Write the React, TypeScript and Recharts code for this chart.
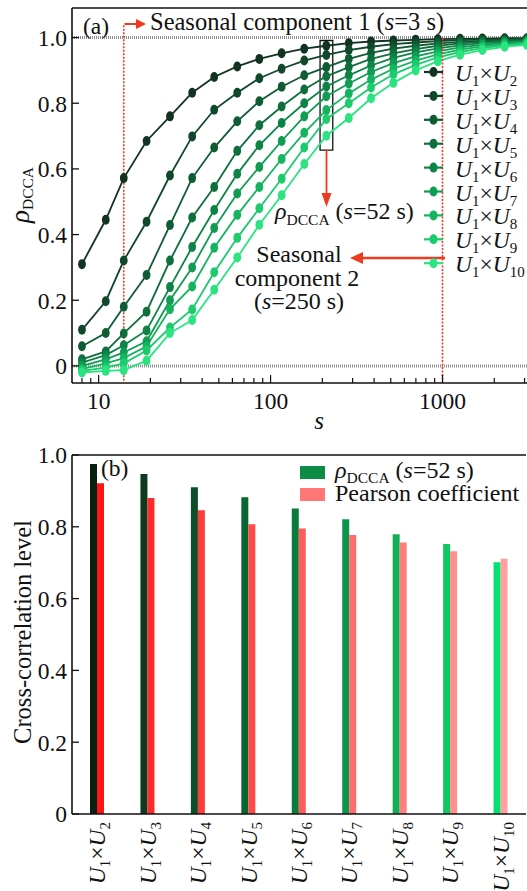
import {
  Bar,
  BarChart,
  Cell,
  Line,
  LineChart,
  ReferenceArea,
  ReferenceLine,
  XAxis,
  YAxis,
} from "recharts";

// ---- panel (a): rho_DCCA against the scale s ----
const scales = [8, 11, 14, 19, 26, 35, 47, 64, 86, 116, 157, 211, 285, 384, 518, 698, 940, 1266, 1706, 2298, 3096];

const rhoU2 = [0.31, 0.445, 0.572, 0.685, 0.76, 0.832, 0.88, 0.912, 0.935, 0.952, 0.966, 0.975, 0.983, 0.988, 0.991, 0.993, 0.995, 0.996, 0.997, 0.998, 0.998];
const rhoU3 = [0.11, 0.197, 0.321, 0.439, 0.58, 0.699, 0.78, 0.832, 0.876, 0.905, 0.93, 0.947, 0.962, 0.972, 0.98, 0.985, 0.989, 0.992, 0.994, 0.995, 0.996];
const rhoU4 = [0.06, 0.1, 0.18, 0.277, 0.429, 0.572, 0.665, 0.745, 0.806, 0.85, 0.885, 0.91, 0.935, 0.953, 0.966, 0.975, 0.982, 0.987, 0.99, 0.993, 0.995];
const rhoU5 = [0.02, 0.044, 0.099, 0.165, 0.321, 0.452, 0.545, 0.655, 0.733, 0.79, 0.842, 0.882, 0.91, 0.935, 0.952, 0.965, 0.975, 0.982, 0.987, 0.99, 0.993];
const rhoU6 = [0.01, 0.033, 0.063, 0.108, 0.24, 0.362, 0.475, 0.585, 0.672, 0.74, 0.8, 0.851, 0.885, 0.915, 0.938, 0.955, 0.967, 0.976, 0.983, 0.987, 0.99];
const rhoU7 = [0.0, 0.02, 0.041, 0.075, 0.2, 0.3, 0.42, 0.525, 0.606, 0.685, 0.76, 0.821, 0.86, 0.895, 0.922, 0.943, 0.958, 0.97, 0.978, 0.984, 0.988];
const rhoU8 = [-0.01, 0.008, 0.024, 0.06, 0.173, 0.242, 0.36, 0.46, 0.545, 0.63, 0.71, 0.779, 0.83, 0.872, 0.905, 0.93, 0.949, 0.963, 0.973, 0.98, 0.985];
const rhoU9 = [-0.015, -0.005, 0.008, 0.047, 0.117, 0.172, 0.285, 0.39, 0.48, 0.57, 0.665, 0.752, 0.8, 0.848, 0.888, 0.917, 0.94, 0.956, 0.968, 0.976, 0.982];
const rhoU10 = [-0.02, -0.015, -0.013, 0.016, 0.1, 0.14, 0.232, 0.33, 0.43, 0.52, 0.615, 0.701, 0.755, 0.815, 0.862, 0.9, 0.928, 0.948, 0.962, 0.972, 0.978];

const pairIndex = ["2", "3", "4", "5", "6", "7", "8", "9", "10"];
const rhoSeries = [rhoU2, rhoU3, rhoU4, rhoU5, rhoU6, rhoU7, rhoU8, rhoU9, rhoU10];

const sTicks = [8, 9, 10, 20, 30, 40, 50, 60, 70, 80, 90, 100, 200, 300, 400, 500, 600, 700, 800, 900, 1000, 2000, 3000];
const sMajor = [10, 100, 1000];
const levelTicks = [0, 0.2, 0.4, 0.6, 0.8, 1.0];

// ---- panel (b): cross-correlation levels ----
const dccaLevels = [0.975, 0.947, 0.91, 0.882, 0.851, 0.821, 0.779, 0.752, 0.701];
const pearsonLevels = [0.921, 0.88, 0.846, 0.807, 0.795, 0.777, 0.756, 0.732, 0.711];

const lineColors = ["#123322", "#11472a", "#0f5c34", "#0e6f3d", "#0d8446", "#109c52", "#14b45e", "#1ccb6c", "#2be47f"];
const greenBars = ["#0a1e12", "#0f3a22", "#0c4d2a", "#0a6535", "#0a7a3d", "#0f944b", "#11ad57", "#10c764", "#00e271"];
const redBars = ["#ff1414", "#ff2b2b", "#ff3b3b", "#ff4a4a", "#ff5d5d", "#ff6e6e", "#ff7f7f", "#ff9090", "#ffa0a0"];

const FONT = "'Liberation Serif', 'Times New Roman', serif";
const RED = "#ee3a1e";
const aDomain = [-0.052, 1.09];

const lineData = scales.map((s, i) => {
  const row: Record<string, number> = { s };
  rhoSeries.forEach((vals, k) => {
    row["u" + pairIndex[k]] = vals[i];
  });
  return row;
});

const barData = pairIndex.map((n, i) => ({
  pair: n,
  dcca: dccaLevels[i],
  pearson: pearsonLevels[i],
}));

const fmt = (v: number) => (v === 0 ? "0" : v.toFixed(1));

const UPair = ({ n }: { n: string }) => (
  <>
    <tspan fontStyle="italic">U</tspan>
    <tspan fontSize={15} dy={5}>1</tspan>
    <tspan dy={-5}>×</tspan>
    <tspan fontStyle="italic">U</tspan>
    <tspan fontSize={15} dy={5}>{n}</tspan>
  </>
);

const LevelTick = (props: any) => {
  const { x, y, payload } = props;
  return (
    <g>
      <line x1={x} x2={x + 7} y1={y} y2={y} stroke="#111" strokeWidth={1.3} />
      <text x={x - 5} y={y} dy="0.36em" textAnchor="end" fontSize={23.5} fontFamily={FONT} fill="#111">
        {fmt(payload.value)}
      </text>
    </g>
  );
};

const ScaleTick = (props: any) => {
  const { x, y, payload } = props;
  const major = sMajor.includes(payload.value);
  return (
    <g>
      <line x1={x} x2={x} y1={y} y2={y - (major ? 8 : 5)} stroke="#111" strokeWidth={1.2} />
      {major && (
        <text x={x} y={y + 26} textAnchor="middle" fontSize={23.5} fontFamily={FONT} fill="#111">
          {payload.value}
        </text>
      )}
    </g>
  );
};

const PairTick = (props: any) => {
  const { x, y, payload } = props;
  return (
    <g transform={`translate(${x + 8},${y + 8}) rotate(-90)`}>
      <text textAnchor="end" fontSize={23.5} fontFamily={FONT} fill="#111">
        <UPair n={payload.value} />
      </text>
    </g>
  );
};

const makeDot = (color: string) => (p: any) => (
  <ellipse key={`dot-${p.index}`} cx={p.cx} cy={p.cy} rx={3.9} ry={5} fill={color} />
);

const Overlay = () => (
  <svg
    width={527}
    height={891}
    style={{ position: "absolute", left: 0, top: 0, pointerEvents: "none" }}
    fontFamily={FONT}
    fill="#111"
  >
    {/* panel (a) texts */}
    <text x={83} y={34} fontSize={23.5}>(a)</text>
    <line x1={124.5} x2={137} y1={24} y2={24} stroke={RED} strokeWidth={2} />
    <polygon points="136,19 146,24 136,29" fill={RED} />
    <text x={150} y={30} fontSize={24.5}>
      Seasonal component 1 (<tspan fontStyle="italic">s</tspan>=3 s)
    </text>

    <line x1={326.5} x2={326.5} y1={150} y2={195} stroke={RED} strokeWidth={1.8} />
    <polygon points="321.5,193 326.5,207 331.5,193" fill={RED} />
    <text x={275} y={219} fontSize={24}>
      <tspan fontStyle="italic">ρ</tspan>
      <tspan fontSize={15.5} dy={6}>DCCA</tspan>
      <tspan dy={-6}> (</tspan>
      <tspan fontStyle="italic">s</tspan>=52 s)
    </text>

    <line x1={445} x2={362} y1={258} y2={258} stroke={RED} strokeWidth={2.5} />
    <polygon points="363,252 350,258 363,264" fill={RED} />
    <text x={299} y={262} fontSize={24} textAnchor="middle">Seasonal</text>
    <text x={297} y={286} fontSize={24} textAnchor="middle">component 2</text>
    <text x={299} y={309} fontSize={24} textAnchor="middle">
      (<tspan fontStyle="italic">s</tspan>=250 s)
    </text>

    {/* legend (a) */}
    {pairIndex.map((n, k) => {
      const y = 72 + 23.9 * k;
      return (
        <g key={n}>
          <line x1={424} x2={443} y1={y} y2={y} stroke={lineColors[k]} strokeWidth={2.2} />
          <ellipse cx={433.5} cy={y} rx={4} ry={5} fill={lineColors[k]} />
          <text x={455} y={y + 9} fontSize={23.5}>
            <UPair n={n} />
          </text>
        </g>
      );
    })}

    {/* axis titles (a) */}
    <g transform="translate(29,195) rotate(-90)">
      <text textAnchor="middle" fontSize={27}>
        <tspan fontStyle="italic">ρ</tspan>
        <tspan fontSize={15.5} dy={4}>DCCA</tspan>
      </text>
    </g>
    <text x={319} y={429} fontSize={25} fontStyle="italic" textAnchor="middle">s</text>

    {/* panel (b) texts */}
    <text x={101} y={476} fontSize={23.5}>(b)</text>
    <rect x={300} y={466} width={25} height={13} fill="#0d8c45" />
    <text x={335} y={478} fontSize={24}>
      <tspan fontStyle="italic">ρ</tspan>
      <tspan fontSize={15.5} dy={5}>DCCA</tspan>
      <tspan dy={-5}> (</tspan>
      <tspan fontStyle="italic">s</tspan>=52 s)
    </text>
    <rect x={300} y={488} width={25} height={13} fill="#ff7676" />
    <text x={335} y={501} fontSize={24}>Pearson coefficient</text>
    <g transform="translate(31,632) rotate(-90)">
      <text textAnchor="middle" fontSize={24.5}>Cross-correlation level</text>
    </g>
  </svg>
);

export default function App() {
  return (
    <div
      style={{
        position: "absolute",
        left: 0,
        top: 0,
        width: 527,
        height: 891,
        background: "#fff",
        overflow: "hidden",
        fontFamily: FONT,
      }}
    >
      <div style={{ position: "absolute", left: 0, top: 0 }}>
        <LineChart width={527} height={430} data={lineData} margin={{ top: 8, right: 0, left: 12, bottom: 7 }}>
          <XAxis
            dataKey="s"
            type="number"
            scale="log"
            domain={[7, 3100]}
            allowDataOverflow
            ticks={sTicks}
            interval={0}
            tickSize={0}
            tickMargin={0}
            tickLine={false}
            tick={ScaleTick}
            height={40}
            axisLine={{ stroke: "#111", strokeWidth: 1.6 }}
          />
          <YAxis
            type="number"
            domain={aDomain}
            allowDataOverflow
            ticks={levelTicks}
            interval={0}
            tickSize={0}
            tickMargin={0}
            tickLine={false}
            tick={LevelTick}
            width={60}
            axisLine={{ stroke: "#111", strokeWidth: 1.6 }}
          />
          <ReferenceLine y={aDomain[1]} stroke="#111" strokeWidth={1.6} ifOverflow="visible" />
          <ReferenceLine y={1} stroke="#8f8f8f" strokeWidth={3} strokeDasharray="1 1" />
          <ReferenceLine y={0} stroke="#8f8f8f" strokeWidth={3} strokeDasharray="1 1" />
          {rhoSeries.map((_, k) => (
            <Line
              key={pairIndex[k]}
              dataKey={"u" + pairIndex[k]}
              stroke={lineColors[k]}
              strokeWidth={1.8}
              dot={makeDot(lineColors[k])}
              activeDot={false}
              isAnimationActive={false}
            />
          ))}
          <ReferenceLine
            segment={[
              { x: 14, y: -0.045 },
              { x: 14, y: 1.04 },
            ]}
            stroke={RED}
            strokeWidth={1.6}
            strokeDasharray="2 1.5"
          />
          <ReferenceLine
            segment={[
              { x: 1000, y: aDomain[0] },
              { x: 1000, y: 1.0 },
            ]}
            stroke={RED}
            strokeWidth={1.6}
            strokeDasharray="2 1.5"
          />
          <ReferenceArea x1={194} x2={230} y1={0.657} y2={0.991} fill="none" fillOpacity={0} stroke="#111" strokeWidth={1.3} />
        </LineChart>
      </div>

      <div style={{ position: "absolute", left: 0, top: 430 }}>
        <BarChart
          width={527}
          height={461}
          data={barData}
          margin={{ top: 25, right: 1, left: 12, bottom: 7 }}
          barGap={0}
        >
          <XAxis
            dataKey="pair"
            interval={0}
            tickSize={0}
            tickMargin={0}
            tickLine={false}
            tick={PairTick}
            height={70}
            axisLine={{ stroke: "#111", strokeWidth: 1.6 }}
          />
          <YAxis
            type="number"
            domain={[0, 1]}
            ticks={levelTicks}
            interval={0}
            tickSize={0}
            tickMargin={0}
            tickLine={false}
            tick={LevelTick}
            width={60}
            axisLine={{ stroke: "#111", strokeWidth: 1.6 }}
          />
          <ReferenceLine y={1} stroke="#111" strokeWidth={1.6} ifOverflow="visible" />
          <Bar dataKey="dcca" barSize={7} isAnimationActive={false}>
            {barData.map((d, i) => (
              <Cell key={d.pair} fill={greenBars[i]} />
            ))}
          </Bar>
          <Bar dataKey="pearson" barSize={7} isAnimationActive={false}>
            {barData.map((d, i) => (
              <Cell key={d.pair} fill={redBars[i]} />
            ))}
          </Bar>
        </BarChart>
      </div>

      <Overlay />
    </div>
  );
}
